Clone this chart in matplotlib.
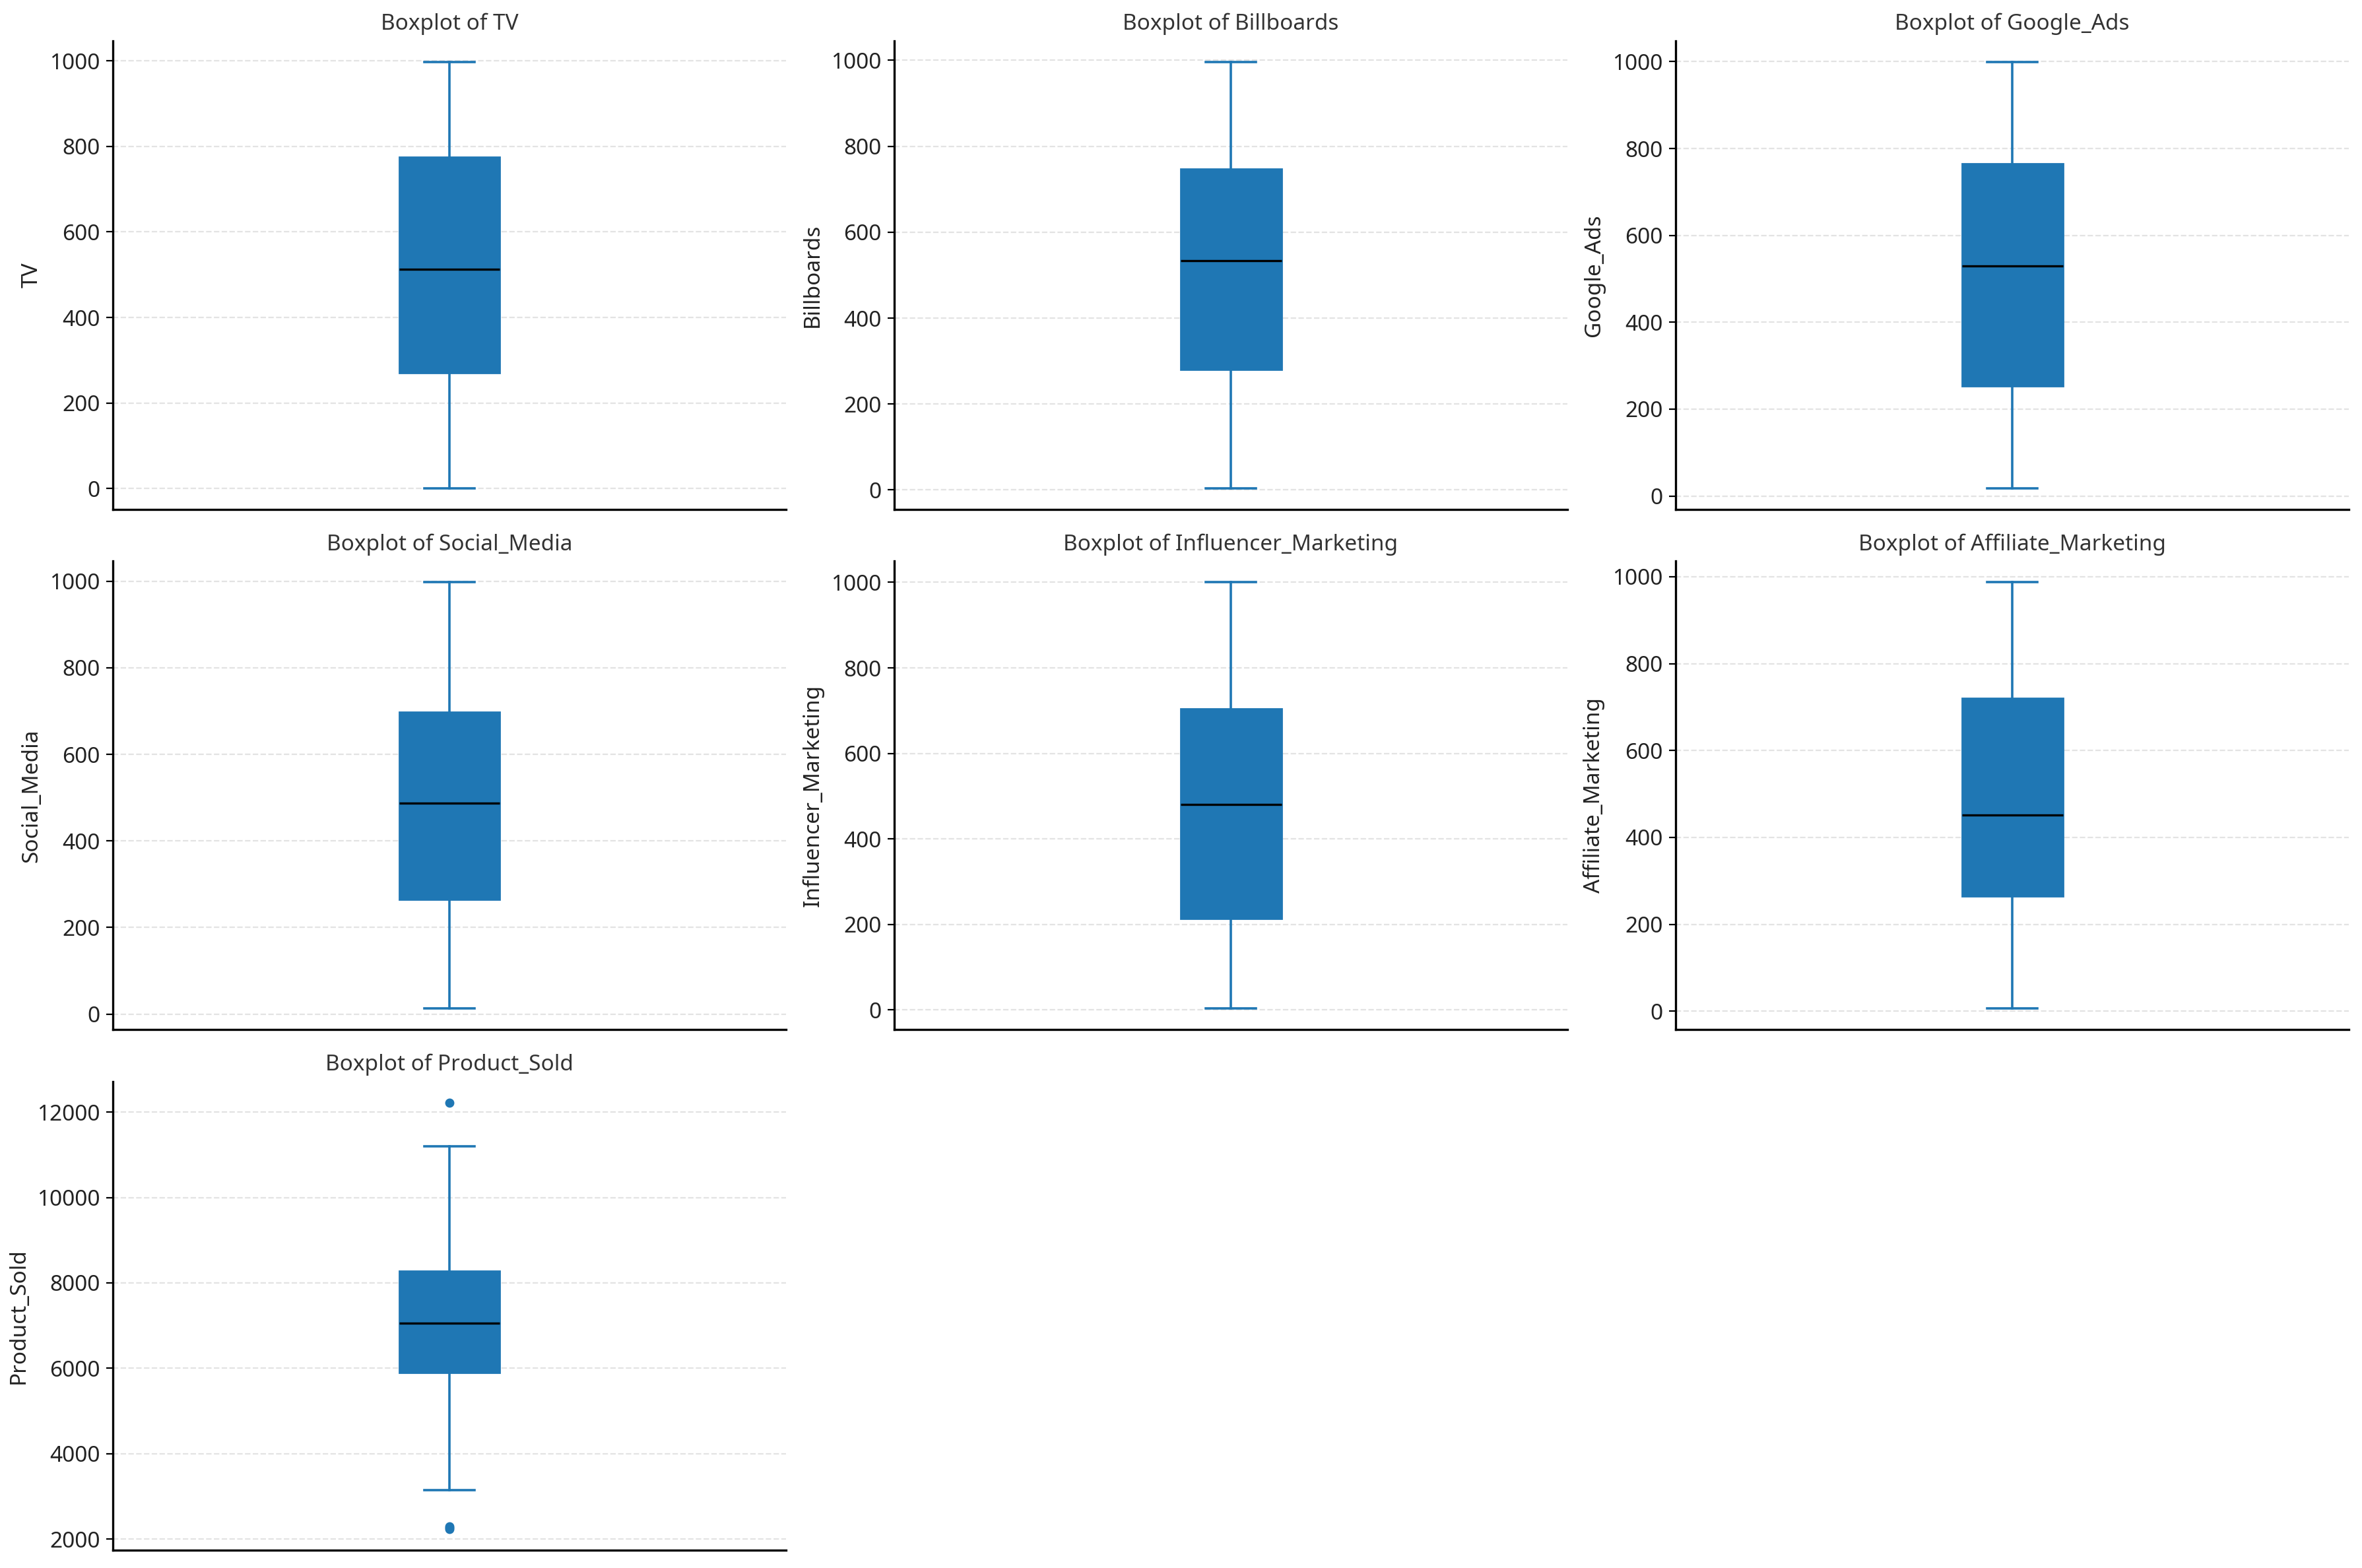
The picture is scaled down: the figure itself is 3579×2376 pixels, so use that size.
import matplotlib
matplotlib.use("Agg")
import matplotlib.pyplot as plt

plt.rcParams['font.family'] = ['Noto Sans', 'DejaVu Sans']

### columns and box statistics ####
columns = ["TV", "Billboards", "Google_Ads", "Social_Media",
           "Influencer_Marketing", "Affiliate_Marketing", "Product_Sold"]
whislo = [1, 4, 18, 13, 3, 6, 3150]
q1 = [270, 280, 253, 265, 213, 265, 5900]
med = [512, 533, 530, 487, 481, 451, 7050]
q3 = [775, 747, 765, 697, 704, 721, 8285]
whishi = [997, 996, 999, 997, 1000, 987, 11200]
fliers = [[], [], [], [], [], [], [12220, 2240, 2270, 2300]]

box_color = "#1f77b4"

fig, axes = plt.subplots(3, 3, figsize=(17.895, 11.88), dpi=200)
fig.subplots_adjust(left=0.0478, right=0.9944, top=0.974, bottom=0.0114,
                    wspace=0.161, hspace=0.11)
axes = axes.flatten()

for i, col in enumerate(columns):
    ax = axes[i]
    stats = [{"whislo": whislo[i], "q1": q1[i], "med": med[i],
              "q3": q3[i], "whishi": whishi[i], "fliers": fliers[i],
              "label": col}]
    ax.bxp(stats, positions=[0], widths=0.15, patch_artist=True,
           boxprops=dict(facecolor=box_color, edgecolor=box_color),
           medianprops=dict(color="black", linewidth=1.2),
           whiskerprops=dict(color=box_color, linewidth=1.3),
           capprops=dict(color=box_color, linewidth=1.3),
           flierprops=dict(marker="o", markerfacecolor=box_color,
                           markeredgecolor=box_color, markersize=4))
    ax.set_xlim(-0.5, 0.5)
    ax.set_xticks([])
    ax.set_title(f"Boxplot of {col}", fontsize=12, color="#333333")
    ax.set_ylabel(col, fontsize=12, color="#222222")
    ax.tick_params(axis="y", labelsize=12, labelcolor="#222222")
    ax.grid(axis="y", linestyle="--", color="#e3e3e3", linewidth=0.8)
    ax.set_axisbelow(True)
    ax.spines["top"].set_visible(False)
    ax.spines["right"].set_visible(False)
    ax.spines["left"].set_linewidth(1.2)
    ax.spines["bottom"].set_linewidth(1.2)

# the last two cells are empty
for j in range(len(columns), len(axes)):
    fig.delaxes(axes[j])

plt.savefig("out.png", dpi=200)
